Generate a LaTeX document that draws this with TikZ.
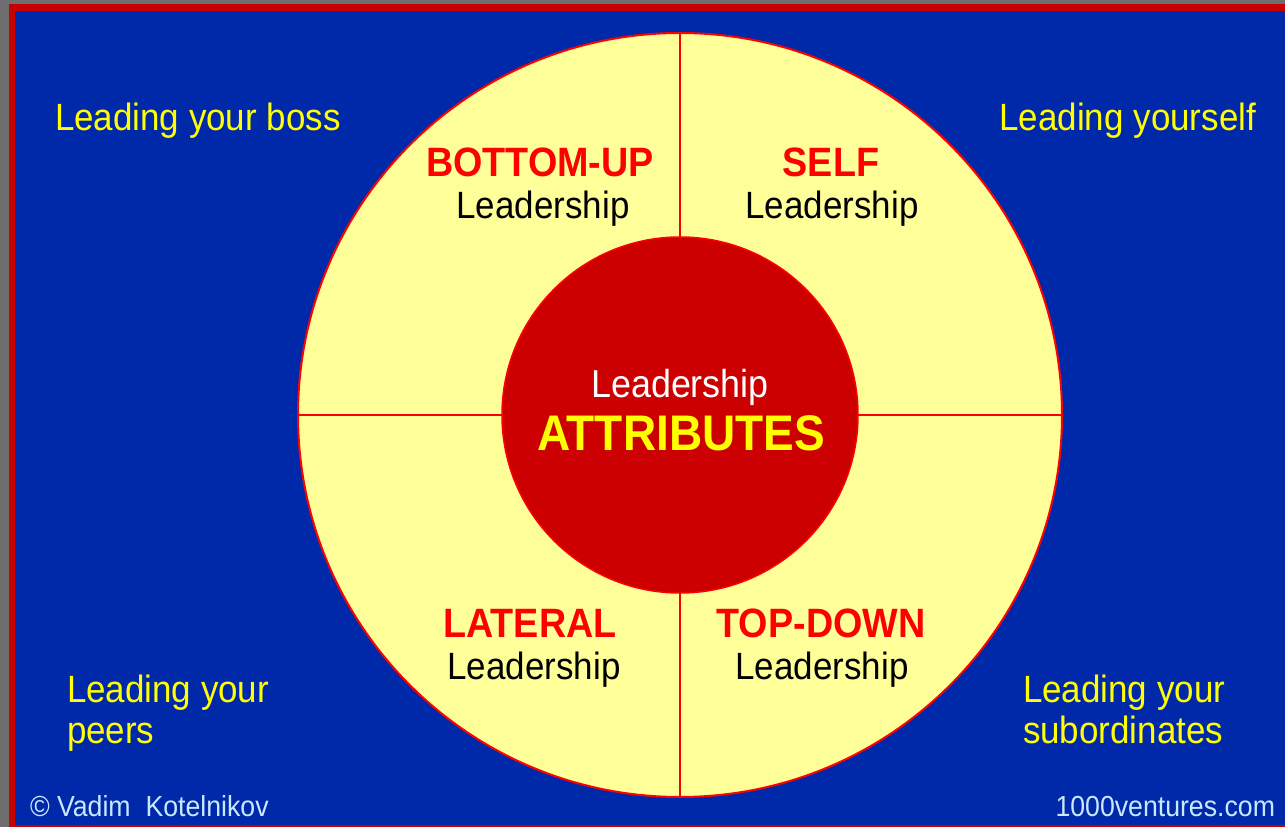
\documentclass[tikz,border=0pt]{standalone}
\usepackage{fontspec}
\newfontfamily\pix[FakeStretch=0.92]{Liberation Sans}
\definecolor{bgblue}{RGB}{0,41,170}
\definecolor{framered}{RGB}{200,0,0}
\definecolor{framegray}{RGB}{110,110,110}
\definecolor{paleyel}{RGB}{255,255,153}
\definecolor{linered}{RGB}{255,0,0}
\definecolor{corered}{RGB}{204,0,0}
\definecolor{lightblue}{RGB}{200,232,255}
\definecolor{txtyel}{RGB}{255,255,0}
\tikzset{
  every node/.style={inner sep=0pt, outer sep=0pt},
  corner/.style={text=txtyel, font=\pix\fontsize{38}{41}\selectfont},
  kind/.style={text=linered, font=\pix\bfseries\fontsize{41}{44}\selectfont, anchor=base},
  lead/.style={text=black, font=\pix\fontsize{38}{41}\selectfont, anchor=base},
  foot/.style={text=lightblue, font=\pix\fontsize{29}{31}\selectfont},
  divider/.style={draw=linered, line width=2.2pt}
}
\begin{document}
\begin{tikzpicture}[x=1pt,y=1pt]
\useasboundingbox (0,0) rectangle (1285,827);
\fill[framegray] (0,0) rectangle (1285,827);
\fill[framered] (9,0) rectangle (1285,823);
\fill[bgblue] (15,2) rectangle (1285,816);
\coordinate (c) at (680,412);
\node[circle, fill=paleyel, draw=linered, line width=2pt, minimum size=764pt] (outer) at (c) {};
\node[circle, minimum size=356pt] (innerref) at (c) {};
\draw[divider] (outer.north) -- (innerref.north);
\draw[divider] (outer.south) -- (innerref.south);
\draw[divider] (outer.west) -- (innerref.west);
\draw[divider] (outer.east) -- (innerref.east);
\node[circle, fill=corered, draw=linered, line width=1.5pt, minimum size=356pt] (inner) at (c) {};
% centre text
\node[text=white, font=\pix\fontsize{39}{42}\selectfont, anchor=base] (clead) at (680,429) {Leadership};
\node[text=txtyel, font=\pix\bfseries\fontsize{50}{54}\selectfont, anchor=base] (attr) at (681,376) {ATTRIBUTES};
% quadrant labels
\node[kind] (bu) at (540,650) {BOTTOM-UP};
\node[lead] (bul) at (543,608) {Leadership};
\node[kind] (self) at (831,650) {SELF};
\node[lead] (selfl) at (832,608) {Leadership};
\node[kind] (lat) at (530,189) {LATERAL};
\node[lead] (latl) at (534,147) {Leadership};
\node[kind] (td) at (821,189) {TOP-DOWN};
\node[lead] (tdl) at (822,147) {Leadership};
% corner texts
\node[corner, anchor=base west] (boss) at (55,696) {Leading your boss};
\node[corner, anchor=base east] (yourself) at (1256,696) {Leading yourself};
\node[corner, anchor=base west] (peersa) at (67,124) {Leading your};
\node[corner, anchor=base west] (peersb) at (67,83) {peers};
\node[corner, anchor=base west] (suba) at (1023,124) {Leading your};
\node[corner, anchor=base west] (subb) at (1023,83) {subordinates};
% footer
\node[foot, anchor=base west] (copy) at (30,10) {© Vadim \ Kotelnikov};
\node[foot, anchor=base east] (site) at (1275,10) {1000ventures.com};
\end{tikzpicture}
\end{document}
